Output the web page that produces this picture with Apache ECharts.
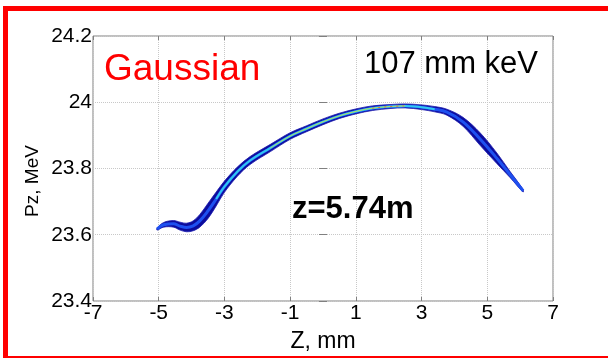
<!DOCTYPE html>
<html>
<head>
<meta charset="utf-8">
<script src="https://cdn.jsdelivr.net/npm/echarts@6/dist/echarts.min.js"></script>
<style>
  html, body { margin: 0; padding: 0; background: #fff; }
  #chart { width: 608px; height: 358px; }
</style>
</head>
<body>
<div id="chart"></div>
<script>
let chart = echarts.init(document.getElementById('chart'));

// 数据：束团中心线 (Z, mm) -> (Pz, MeV) 及其能散 (MeV)
const zCenter  = [-5.05, -4.85, -4.55, -4.35, -4.15, -3.95, -3.75, -3.5, -3.25, -3.0, -2.6, -2.22, -1.6, -1.0, -0.5, 0, 0.5, 1.03, 1.5, 2.04, 2.5, 3.0, 3.4, 3.77, 4.26, 4.78, 5.29, 5.70, 6.09];
const pzCenter = [23.617, 23.630, 23.633, 23.626, 23.622, 23.627, 23.642, 23.672, 23.708, 23.745, 23.791, 23.824, 23.862, 23.898, 23.920, 23.941, 23.959, 23.973, 23.982, 23.987, 23.989, 23.985, 23.979, 23.970, 23.941, 23.889, 23.831, 23.781, 23.733];
const pzSpread = [0.003, 0.007, 0.010, 0.012, 0.013, 0.015, 0.019, 0.023, 0.021, 0.017, 0.014, 0.012, 0.011, 0.010, 0.009, 0.0088, 0.008, 0.0075, 0.007, 0.006, 0.006, 0.007, 0.008, 0.009, 0.0135, 0.019, 0.016, 0.009, 0.004];

// 核心密度较高的区间
const cyanRange = [-3.3, 3.5];
const yellowRange = [-1.8, 2.8];
const redRange = [1.4, 2.6];

// 坐标轴刻度
const xTicks = [-7, -5, -3, -1, 1, 3, 5, 7];
const yTicks = [23.4, 23.6, 23.8, 24, 24.2];

const fontFam = '"Liberation Sans", Arial, sans-serif';

let centerLine = zCenter.map((z, i) => [z, pzCenter[i]]);
let inRange = r => centerLine.filter(p => p[0] >= r[0] && p[0] <= r[1]);

let option = {
    animation: false,
    backgroundColor: '#fff',
    grid: {
        left: 93, right: 55, top: 36, bottom: 47,
        show: true, borderColor: '#808080', borderWidth: 1
    },
    xAxis: [{
        type: 'value', min: xTicks[0], max: xTicks[xTicks.length - 1], interval: 2,
        name: 'Z, mm', nameLocation: 'middle', nameGap: 29,
        nameTextStyle: {fontFamily: fontFam, fontSize: 23, color: '#000'},
        axisLine: {show: false},
        axisTick: {inside: true, length: 4, lineStyle: {color: '#808080'}},
        axisLabel: {fontFamily: fontFam, fontSize: 21, color: '#000', margin: 2},
        splitLine: {show: true, lineStyle: {color: '#c8c8c8', type: 'dotted'}}
    }, {
        type: 'value', min: xTicks[0], max: xTicks[xTicks.length - 1], interval: 2, position: 'top',
        axisLine: {show: false}, axisLabel: {show: false}, splitLine: {show: false},
        axisTick: {inside: true, length: 4, lineStyle: {color: '#808080'}}
    }],
    yAxis: [{
        type: 'value', min: yTicks[0], max: yTicks[yTicks.length - 1], interval: 0.2,
        axisLine: {show: false},
        axisTick: {inside: true, length: 4, lineStyle: {color: '#808080'}},
        axisLabel: {fontFamily: fontFam, fontSize: 21, color: '#000', margin: 1,
            formatter: v => String(Math.round(v * 10) / 10)},
        splitLine: {show: true, lineStyle: {color: '#c8c8c8', type: 'dotted'}}
    }, {
        type: 'value', min: yTicks[0], max: yTicks[yTicks.length - 1], interval: 0.2, position: 'right',
        axisLine: {show: false}, axisLabel: {show: false}, splitLine: {show: false},
        axisTick: {inside: true, length: 4, lineStyle: {color: '#808080'}}
    }],
    series: [
        {
            type: 'custom',
            data: [[zCenter[0], pzCenter[0]]],
            renderItem: function (params, api) {
                let upper = zCenter.map((z, i) => api.coord([z, pzCenter[i] + pzSpread[i]]));
                let lower = zCenter.map((z, i) => api.coord([z, pzCenter[i] - pzSpread[i]])).reverse();
                return {
                    type: 'polygon',
                    shape: {points: upper.concat(lower), smooth: 0.35},
                    style: {fill: '#0c0c9c', stroke: '#1a1ab0', lineWidth: 0.8}
                };
            },
            z: 2
        },
        {
            type: 'line', data: centerLine, smooth: 0.4, symbol: 'none',
            lineStyle: {color: '#1e50f0', width: 3}, z: 3
        },
        {
            type: 'line', data: inRange(cyanRange), smooth: 0.4, symbol: 'none',
            lineStyle: {color: '#30c8f0', width: 2}, z: 4
        },
        {
            type: 'line', data: inRange(yellowRange), smooth: 0.4, symbol: 'none',
            lineStyle: {color: '#b8e060', width: 1}, z: 5
        },
        {
            type: 'line', data: inRange(redRange), smooth: 0.4, symbol: 'none',
            lineStyle: {color: '#e07040', width: 1, type: [2, 4]}, z: 6
        }
    ],
    graphic: [
        // 红色外框
        {type: 'rect', shape: {x: 3, y: 6, width: 605, height: 5}, style: {fill: '#ff0000'}, z: 100},
        {type: 'rect', shape: {x: 3, y: 6, width: 5, height: 352}, style: {fill: '#ff0000'}, z: 100},
        {type: 'rect', shape: {x: 3, y: 356, width: 605, height: 2}, style: {fill: '#ff0000'}, z: 100},
        {type: 'text', x: 104, y: 70, z: 100,
            style: {text: 'Gaussian', fill: '#ff0000', font: '37px ' + fontFam, verticalAlign: 'middle'}},
        {type: 'text', x: 364, y: 64, z: 100,
            style: {text: '107 mm keV', fill: '#000', font: '31px ' + fontFam, verticalAlign: 'middle'}},
        {type: 'text', x: 292, y: 209, z: 100,
            style: {text: 'z=5.74m', fill: '#000', font: 'bold 31px ' + fontFam, verticalAlign: 'middle'}},
        // 纵轴名称
        {type: 'text', x: 33, y: 181, rotation: Math.PI / 2, z: 100,
            style: {text: 'Pz, MeV', fill: '#000', font: '19px ' + fontFam, align: 'center', verticalAlign: 'middle'}}
    ]
};

chart.setOption(option);
</script>
</body>
</html>
